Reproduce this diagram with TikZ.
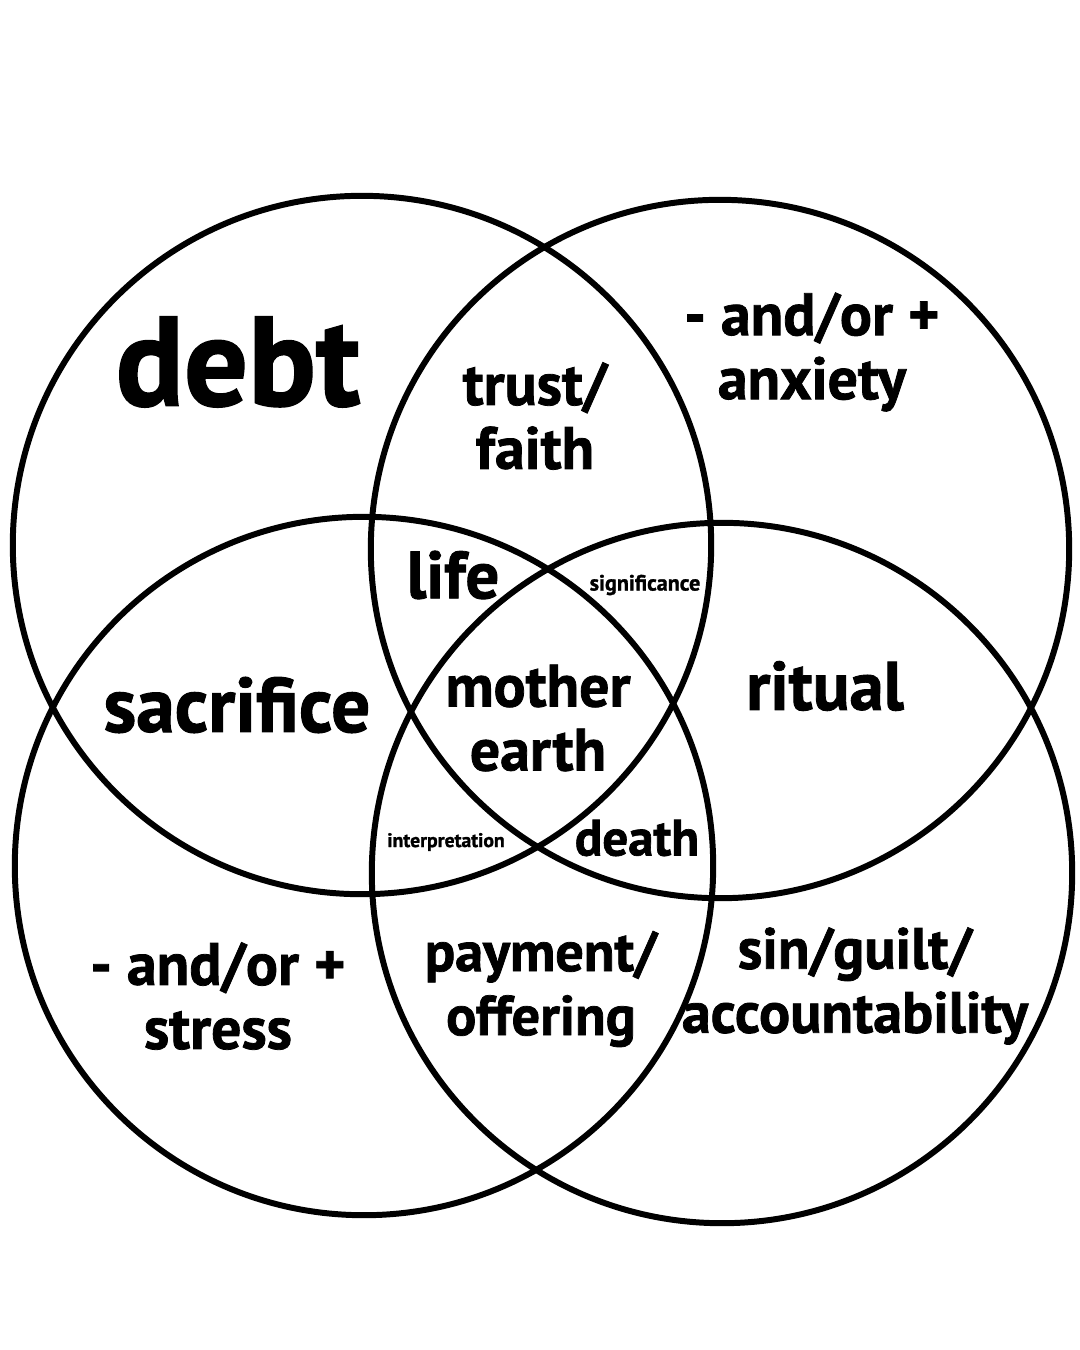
\documentclass[tikz,border=0pt]{standalone}
\usepackage{fontspec}
\setmainfont{PT Sans}[BoldFeatures={FakeBold=1.3}]
\usepackage{tikz}
\usetikzlibrary{positioning}

\begin{document}
\begin{tikzpicture}[x=0.01cm, y=-0.01cm,
    ring/.style={line width=1.7pt},
    word/.style={font=\bfseries\fontsize{#1}{18.2}\selectfont, align=center, inner sep=0pt},
    word/.default=17]
    \fill[white] (0,0) rectangle (1080,1350);
    \useasboundingbox (0,0) rectangle (1080,1350);
    % the four circles
    \draw[ring] (362,545) circle (3.49cm);
    \draw[ring] (720,549) circle (3.49cm);
    \draw[ring] (364,866) circle (3.49cm);
    \draw[ring] (722,873) circle (3.50cm);
    % outer regions
    \node[word=36] (debt) at (238,362) {debt};
    \node[word] (anxiety) at (812,352) {- and/or +\\anxiety};
    \node[word=22] (sacrifice) at (237,705) {sacrifice};
    \node[word=19.5] (ritual) at (825,686) {ritual};
    \node[word] (stress) at (218,996) {- and/or +\\stress};
    \node[word=16.5] (guilt) at (855,986) {sin/guilt/\\accountability};
    % overlaps
    \node[word] (trust) at (535,416) {trust/\\faith};
    \node[word=19] (life) at (453,575) {life};
    \node[word=6.3] (significance) at (645,585) {significance};
    \node[word] (mother) at (538,718) {mother\\earth};
    \node[word=5.6] (interpretation) at (446,842) {interpretation};
    \node[word=14.5] (death) at (637,838) {death};
    \node[word=16] (payment) at (541,989) {payment/\\offering};
\end{tikzpicture}
\end{document}
